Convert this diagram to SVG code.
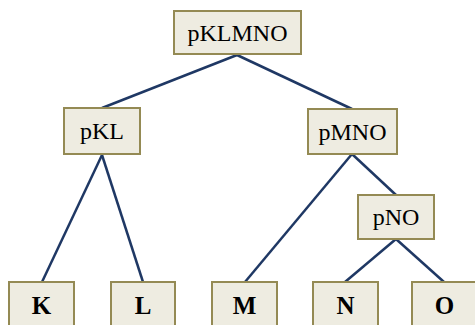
<svg xmlns="http://www.w3.org/2000/svg" width="475" height="325" viewBox="0 0 475 325">
<style>
.box{fill:#EEECE1;stroke:#948A54;stroke-width:2}
.t{font-family:"Liberation Serif","Times New Roman",serif;font-size:24px;fill:#000;text-anchor:middle}
.b{font-weight:bold;font-size:25px}
.edge{stroke:#1F3864;stroke-width:2.5;fill:none}
</style>
<rect width="475" height="325" fill="#fff"/>
<g id="connectors">
<line class="edge" x1="237" y1="55" x2="102" y2="108"/>
<line class="edge" x1="237" y1="55" x2="352" y2="109"/>
<line class="edge" x1="102" y1="155" x2="42" y2="282"/>
<line class="edge" x1="102" y1="155" x2="143" y2="282"/>
<line class="edge" x1="352" y1="154" x2="245" y2="282"/>
<line class="edge" x1="352" y1="154" x2="396" y2="195"/>
<line class="edge" x1="396" y1="239" x2="345" y2="282"/>
<line class="edge" x1="396" y1="239" x2="444" y2="282"/>
</g>
<g id="pKLMNO"><rect class="box" x="174" y="11" width="127" height="43"/><text class="t" x="237.5" y="41">pKLMNO</text></g>
<g id="pKL"><rect class="box" x="64" y="108" width="76" height="46"/><text class="t" x="102" y="139">pKL</text></g>
<g id="pMNO"><rect class="box" x="308" y="109" width="89" height="45"/><text class="t" x="352.5" y="140">pMNO</text></g>
<g id="pNO"><rect class="box" x="358" y="195" width="76" height="44"/><text class="t" x="396" y="225">pNO</text></g>
<g id="K"><rect class="box" x="9" y="282" width="65" height="46"/><text class="t b" x="41.5" y="314">K</text></g>
<g id="L"><rect class="box" x="111" y="282" width="64" height="46"/><text class="t b" x="143" y="314">L</text></g>
<g id="M"><rect class="box" x="212" y="282" width="65" height="46"/><text class="t b" x="244.5" y="314">M</text></g>
<g id="N"><rect class="box" x="313" y="282" width="65" height="46"/><text class="t b" x="345.5" y="314">N</text></g>
<g id="O"><rect class="box" x="412" y="282" width="65" height="46"/><text class="t b" x="444.5" y="314">O</text></g>
</svg>
